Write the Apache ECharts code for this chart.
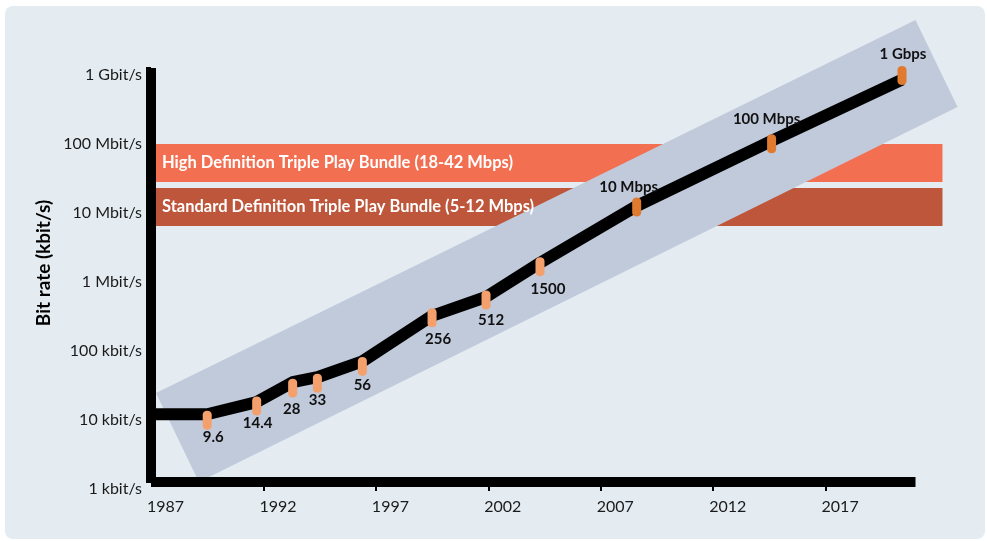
<!DOCTYPE html>
<html>
<head>
<meta charset="utf-8">
<script src="https://cdn.jsdelivr.net/npm/echarts@6/dist/echarts.min.js"></script>
<style>
html,body{margin:0;padding:0;background:#fff;}
#chart{width:987px;height:541px;}
</style>
</head>
<body>
<div id="chart"></div>
<script>
// ---- data ----
const years  = [1987, 1989.5, 1991.7, 1993.3, 1994.4, 1996.4, 1999.5, 2001.9, 2004.3, 2008.6, 2014.6, 2020.4];
const rates  = [9.6, 9.6, 14.4, 28, 33, 56, 256, 480, 1500, 10000, 88000, 680000];   // kbit/s
const pointLabels = ['', '9.6', '14.4', '28', '33', '56', '256', '512', '1500', '10 Mbps', '100 Mbps', '1 Gbps'];

const yTickValues = [1, 10, 100, 1000, 10000, 100000, 1000000];
const yTickLabels = ['1 kbit/s', '10 kbit/s', '100 kbit/s', '1 Mbit/s', '10 Mbit/s', '100 Mbit/s', '1 Gbit/s'];
const xTickYears  = [1987, 1992, 1997, 2002, 2007, 2012, 2017];

const bundleNames = ['High Definition Triple Play Bundle (18-42 Mbps)', 'Standard Definition Triple Play Bundle (5-12 Mbps)'];
const bundleStart = [1987, 1987];
const bundleEnd   = [2022.2, 2022.2];
const bundleLow   = [22300, 5130];
const bundleHigh  = [79200, 18200];

const bandYears  = [1987.22, 1989.13, 2022.87, 2021.0];
const bandValues = [19.5, 1, 272000, 4960000];

// ---- styles ----
const FONT = 'Lato, "Open Sans", sans-serif';
const bundleColors = ['#f26f51', '#bd563b'];
const labelBelow = [false, true, true, true, true, true, true, true, true, false, false, false];
const labelShift = [[0,0],[6,-1],[1,-1],[-1,3],[0,-1],[0,1],[6,3],[5,2],[8,4],[-8,0],[-5,-5],[1,-1]];
const markerShift = [[0,0],[0,6],[0,4],[0,6],[0,6],[0,5],[0,2],[0,3],[0,4],[0,1],[0,3],[0,-4]];
const capsule = 'path://M4,0 C6.2,0 8,1.8 8,4 L8,16 C8,18.2 6.2,20 4,20 C1.8,20 0,18.2 0,16 L0,4 C0,1.8 1.8,0 4,0 Z';

const lineData = years.map((y, i) => {
  const item = { value: [y, rates[i]] };
  if (i === 0) { item.symbol = 'none'; return item; }
  item.symbol = capsule;
  item.symbolSize = [9, 19];
  item.symbolOffset = markerShift[i];
  item.itemStyle = { color: i >= 9 ? '#df7a2f' : '#f4a06d' };
  item.label = {
    show: true,
    formatter: pointLabels[i],
    position: labelBelow[i] ? 'bottom' : 'top',
    distance: labelBelow[i] ? 1 : 3,
    offset: labelShift[i],
    color: '#111',
    fontFamily: FONT,
    fontWeight: 'bold',
    fontSize: 15
  };
  return item;
});

const chart = echarts.init(document.getElementById('chart'), null, { renderer: 'canvas' });

const option = {
  backgroundColor: '#ffffff',
  animation: false,
  graphic: [
    { type: 'rect', z: -10, shape: { x: 5, y: 6, width: 980, height: 533, r: 8 }, style: { fill: '#e4ecf2' } },
    { type: 'text', x: 44, y: 263, rotation: Math.PI / 2, z: 10,
      style: { text: 'Bit rate (kbit/s)', font: 'bold 19px ' + FONT, fill: '#000', align: 'center', verticalAlign: 'middle' } }
  ],
  grid: { left: 151, right: 71.5, top: 68, bottom: 59 },
  xAxis: {
    type: 'value', min: 1987, max: 2021, z: 10,
    splitLine: { show: false },
    axisLine: { show: true, lineStyle: { color: '#000', width: 10, cap: 'butt' } },
    axisTick: { show: true, customValues: xTickYears.slice(1), length: 9, lineStyle: { color: '#000', width: 2 } },
    axisLabel: { customValues: xTickYears, align: 'left', padding: [0, 0, 0, -4], margin: 17,
      color: '#1a1a1a', fontFamily: FONT, fontSize: 16, formatter: v => String(v) }
  },
  yAxis: {
    type: 'log', logBase: 10, min: 1, max: 1000000, z: 11,
    splitLine: { show: false },
    axisLine: { show: true, lineStyle: { color: '#000', width: 10, cap: 'butt' } },
    axisTick: { show: true, length: 5, lineStyle: { color: '#000', width: 2 } },
    axisLabel: { margin: 9, verticalAlign: 'top', lineHeight: 13, color: '#1a1a1a', fontFamily: FONT, fontSize: 16,
      formatter: v => { const k = yTickValues.findIndex(t => Math.abs(Math.log10(t) - Math.log10(v)) < 1e-6); return k >= 0 ? yTickLabels[k] : ''; } }
  },
  series: [
    {
      type: 'custom', z: 1, clip: false, silent: true,
      data: bundleNames.map((n, i) => [bundleStart[i], bundleEnd[i], bundleLow[i], bundleHigh[i]]),
      encode: { x: [0, 1], y: [2, 3] },
      renderItem: (params, api) => {
        const p0 = api.coord([api.value(0), api.value(3)]);
        const p1 = api.coord([api.value(1), api.value(2)]);
        return { type: 'rect', shape: { x: p0[0], y: p0[1], width: p1[0] - p0[0], height: p1[1] - p0[1] },
          style: { fill: bundleColors[params.dataIndex] } };
      }
    },
    {
      type: 'custom', z: 2, clip: false, silent: true,
      data: bandYears.map((y, i) => [y, bandValues[i]]),
      encode: { x: 0, y: 1 },
      renderItem: (params, api) => {
        if (params.dataIndex !== 0) return null;
        const pts = bandYears.map((y, i) => api.coord([y, bandValues[i]]));
        return { type: 'polygon', shape: { points: pts }, style: { fill: '#c1cadb' } };
      }
    },
    {
      type: 'custom', z: 3, clip: false, silent: true,
      data: bundleNames.map((n, i) => [bundleStart[i], Math.sqrt(bundleLow[i] * bundleHigh[i])]),
      encode: { x: 0, y: 1 },
      renderItem: (params, api) => {
        const p = api.coord([api.value(0), api.value(1)]);
        return { type: 'text', x: p[0] + 11, y: p[1],
          style: { text: bundleNames[params.dataIndex], fill: '#ffffff', font: 'bold 16.5px ' + FONT, align: 'left', verticalAlign: 'middle' } };
      }
    },
    {
      type: 'line', z: 4, clip: false, silent: true,
      data: lineData,
      showAllSymbol: true,
      lineStyle: { color: '#000', width: 12, cap: 'butt', join: 'round' },
      emphasis: { disabled: true }
    }
  ]
};
chart.setOption(option);
</script>
</body>
</html>
